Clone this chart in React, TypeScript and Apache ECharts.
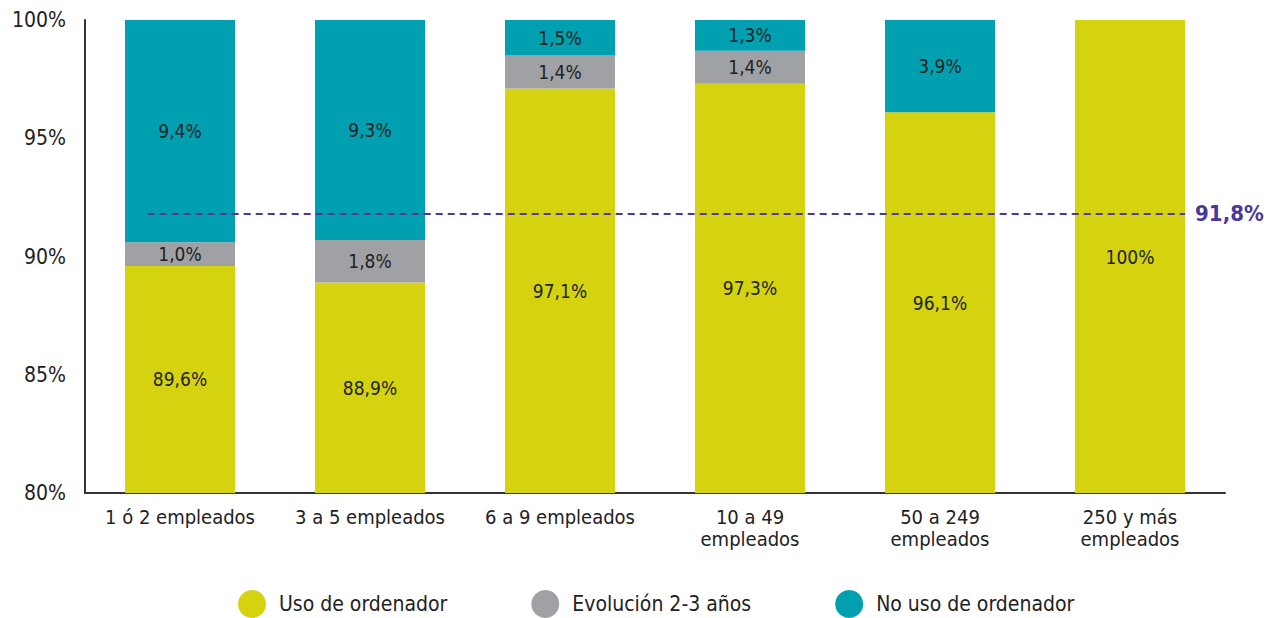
import React, { useEffect, useRef } from "react";
import * as echarts from "echarts";

const categories = ["1 ó 2 empleados", "3 a 5 empleados", "6 a 9 empleados", "10 a 49\nempleados", "50 a 249\nempleados", "250 y más\nempleados"];
const usoOrdenador = [89.6, 88.9, 97.1, 97.3, 96.1, 100];
const evolucion = [1.0, 1.8, 1.4, 1.4, 0, 0];
const noUso = [9.4, 9.3, 1.5, 1.3, 3.9, 0];
const yTicks = [80, 85, 90, 95, 100];
const mediaValue = 91.8;
const mediaLabel = "91,8%";

const FONT = "'Liberation Sans Narrow', 'DejaVu Sans Condensed', 'Arial Narrow', sans-serif";
const YELLOW = "#D5D20F";
const GREY = "#A0A1A5";
const TEAL = "#00A0B0";
const PURPLE = "#4A3899";

const fmt = (v: number) => (v === 100 ? "100%" : v.toFixed(1).replace(".", ",") + "%");

export default function App() {
  const ref = useRef<HTMLDivElement>(null);
  useEffect(() => {
    const chart = echarts.init(ref.current!, null, { renderer: "svg" });
    const labelCfg = {
      show: true,
      position: "inside",
      color: "#222",
      fontSize: 19,
      fontFamily: FONT,
      formatter: (p: any) => (p.value ? fmt(p.value) : ""),
    };
    chart.setOption({
      animation: false,
      textStyle: { fontFamily: FONT },
      grid: { left: 85, right: 41, top: 20, bottom: 125, containLabel: false },
      xAxis: [
        {
          type: "category",
          data: categories,
          axisLine: { show: true, lineStyle: { color: "#333", width: 2 } },
          axisTick: { show: false },
          axisLabel: { color: "#222", fontSize: 20, fontFamily: FONT, margin: 13, lineHeight: 22, interval: 0 },
        },
        { type: "value", min: 0, max: 6, show: false },
      ],
      yAxis: {
        type: "value",
        min: yTicks[0],
        max: yTicks[yTicks.length - 1],
        interval: 5,
        axisLine: { show: true, lineStyle: { color: "#333", width: 2 } },
        axisTick: { show: false },
        splitLine: { show: false },
        axisLabel: { color: "#222", fontSize: 21, fontFamily: FONT, margin: 19, formatter: (v: number) => v + "%" },
      },
      legend: {
        bottom: 0,
        left: 238,
        padding: 0,
        icon: "circle",
        itemWidth: 28,
        itemHeight: 28,
        itemGap: 84,
        textStyle: { color: "#222", fontSize: 21, fontFamily: FONT, padding: [0, 0, 0, 8] },
        data: ["Uso de ordenador", "Evolución 2-3 años", "No uso de ordenador"],
      },
      series: [
        { name: "Uso de ordenador", type: "bar", stack: "a", barWidth: 110, data: usoOrdenador, itemStyle: { color: YELLOW }, label: labelCfg },
        { name: "Evolución 2-3 años", type: "bar", stack: "a", barWidth: 110, data: evolucion, itemStyle: { color: GREY }, label: labelCfg },
        { name: "No uso de ordenador", type: "bar", stack: "a", barWidth: 110, data: noUso, itemStyle: { color: TEAL }, label: labelCfg },
        {
          name: "media",
          type: "line",
          xAxisIndex: 1,
          data: [[0.33, mediaValue], [5.79, mediaValue]],
          symbol: "none",
          lineStyle: { color: PURPLE, width: 2, type: [7, 5] },
          z: 10,
          endLabel: {
            show: true,
            formatter: () => mediaLabel,
            color: PURPLE,
            fontSize: 22,
            fontWeight: "bold",
            fontFamily: FONT,
            distance: 10,
          },
        },
      ],
    });
    return () => chart.dispose();
  }, []);
  return <div ref={ref} style={{ position: "absolute", left: 0, top: 0, width: 1266, height: 618 }} />;
}
